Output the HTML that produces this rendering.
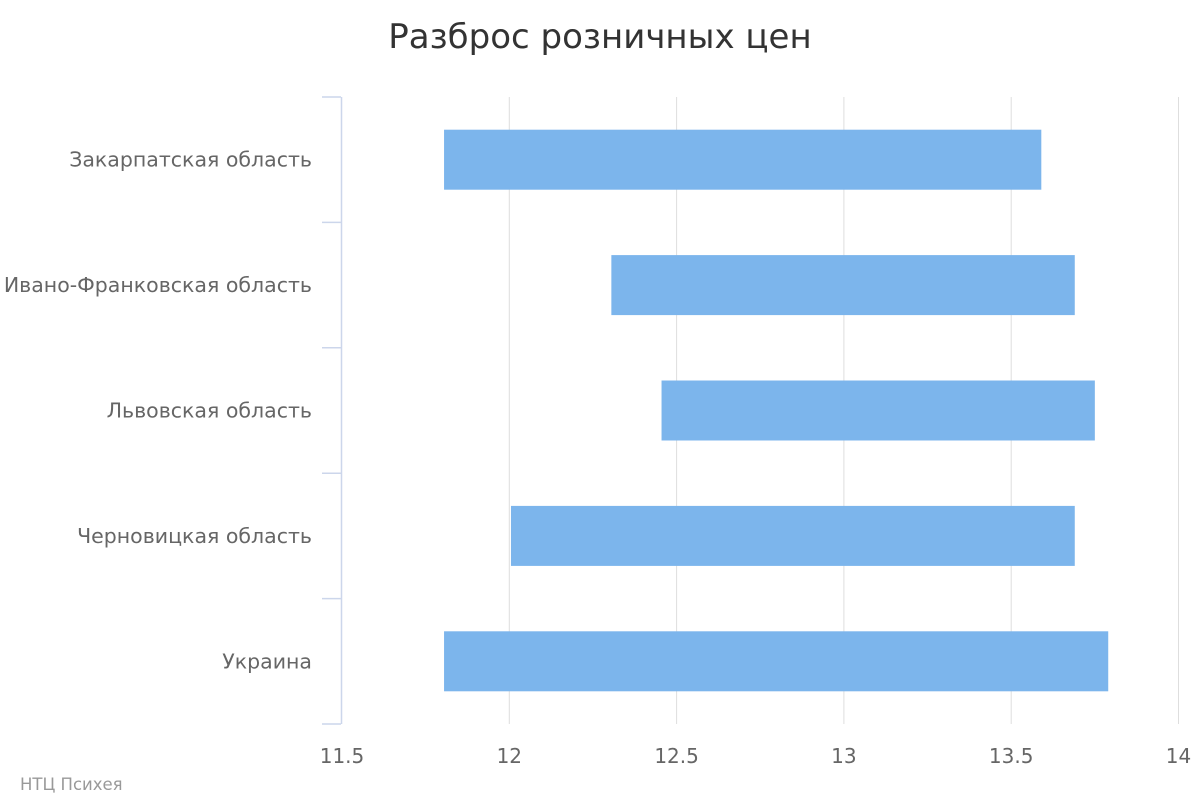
<!DOCTYPE html>
<html><head><meta charset="utf-8"><style>
html,body{margin:0;padding:0;background:#fff;}
svg{display:block;font-family:"DejaVu Sans","Liberation Sans",sans-serif;}
</style></head><body>
<svg id="chart" width="1200" height="800">
<rect width="1200" height="800" fill="#fff"/>
<text x="600" y="48" text-anchor="middle" font-size="34" fill="#333">Разброс розничных цен</text>
<g id="grid"></g><g id="bars"></g><g id="axes"></g>
<text x="20" y="790" font-size="16.5" fill="#999">НТЦ Психея</text>
</svg>
<script>
const categories=["Закарпатская область","Ивано-Франковская область","Львовская область","Черновицкая область","Украина"];
const lows=[11.805,12.305,12.455,12.005,11.805];
const highs=[13.59,13.69,13.75,13.69,13.79];
const ticks=[11.5,12,12.5,13,13.5,14];
const tickLabels=["11.5","12","12.5","13","13.5","14"];
const NS="http://www.w3.org/2000/svg";
const X0=342,X1=1178.5,VMIN=11.5,VMAX=14,TOP=97,BOT=724;
const x=v=>X0+(v-VMIN)/(VMAX-VMIN)*(X1-X0);
const band=(BOT-TOP)/categories.length;
const yc=i=>TOP+band*(i+0.5);
function mk(tag,attrs,parent){const e=document.createElementNS(NS,tag);for(const k in attrs)e.setAttribute(k,attrs[k]);document.getElementById(parent).appendChild(e);return e;}
ticks.forEach((t,i)=>{
 if(i>0){const l=mk('line',{x1:x(t),x2:x(t),y1:TOP,y2:BOT,stroke:'#dedede','stroke-width':1},'grid');
 
 }
 const tx=mk('text',{x:x(t),y:763,'text-anchor':'middle','font-size':20,fill:'#666'},'axes');
 tx.textContent=tickLabels[i];
 
 
});
const ax=mk('line',{x1:341.5,x2:341.5,y1:TOP,y2:BOT,stroke:'#ccd6eb','stroke-width':1.5},'axes');


for(let i=0;i<=categories.length;i++){
 const y=TOP+band*i;
 const tk=mk('line',{x1:322,x2:341,y1:y,y2:y,stroke:'#ccd6eb','stroke-width':1.5},'axes');
 
 
}
categories.forEach((c,i)=>{
 const r=mk('rect',{x:x(lows[i]),y:yc(i)-30,width:x(highs[i])-x(lows[i]),height:60,fill:'#7cb5ec'},'bars');
 
 
 const t=mk('text',{x:312,y:yc(i)+7,'text-anchor':'end','font-size':20.5,fill:'#666'},'axes');
 t.textContent=c;
 
 
});
</script>
</body></html>
